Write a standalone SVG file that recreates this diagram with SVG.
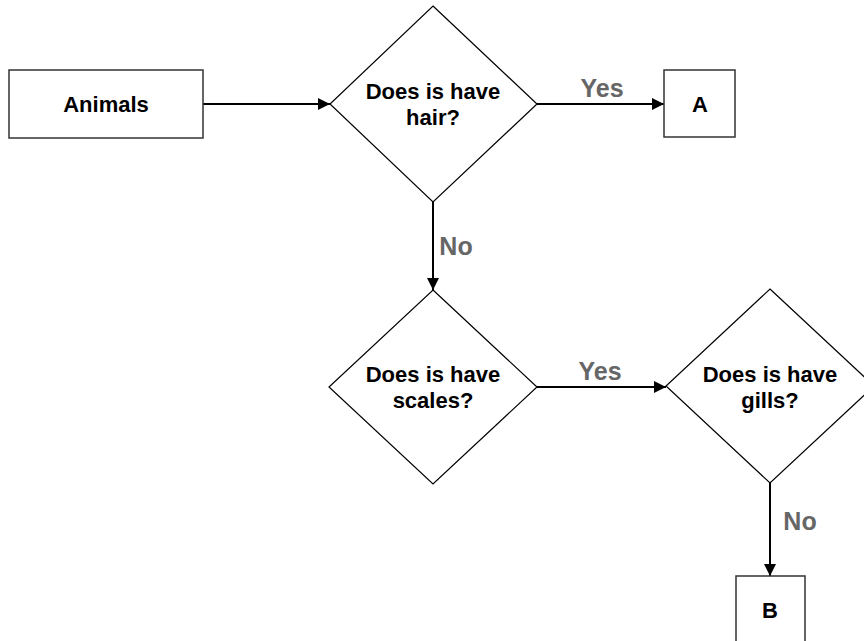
<svg xmlns="http://www.w3.org/2000/svg" width="864" height="641" viewBox="0 0 864 641">
<defs>
<style>
.box{fill:#fff;stroke:#333;stroke-width:1.5}
.dia{fill:#fff;stroke:#000;stroke-width:1.2}
.t{font-family:"Liberation Sans",Arial,sans-serif;font-weight:bold;font-size:22px;fill:#000;text-anchor:middle}
.lbl{font-family:"Liberation Sans",Arial,sans-serif;font-weight:bold;font-size:25px;fill:#666;text-anchor:middle}
.c{stroke:#000;stroke-width:2;fill:none;marker-end:url(#ah)}
</style>
<marker id="ah" viewBox="0 0 10 10" refX="10" refY="5" markerWidth="6" markerHeight="6" orient="auto" markerUnits="strokeWidth">
<path d="M0,0 L10,5 L0,10 z" fill="#000"/>
</marker>
</defs>
<rect width="864" height="641" fill="#fff"/>
<g id="connectors">
<line class="c" x1="203" y1="104" x2="330" y2="104"/>
<line class="c" x1="537" y1="104" x2="664" y2="104"/>
<line class="c" x1="433" y1="202" x2="433" y2="290"/>
<line class="c" x1="537" y1="387" x2="666" y2="387"/>
<line class="c" x1="770" y1="483" x2="770" y2="576"/>
<text class="lbl" x="602" y="97">Yes</text>
<text class="lbl" x="600" y="380">Yes</text>
<text class="lbl" x="456" y="255">No</text>
<text class="lbl" x="800" y="530">No</text>
</g>
<g id="animals">
<rect class="box" x="9" y="70" width="194" height="68"/>
<text class="t" x="106" y="112">Animals</text>
</g>
<g id="hair">
<polygon class="dia" points="433,6 537,104 433,202 330,104"/>
<text class="t" x="433" y="99">Does is have</text>
<text class="t" x="433" y="125">hair?</text>
</g>
<g id="a">
<rect class="box" x="664" y="70" width="71" height="67"/>
<text class="t" x="700" y="112">A</text>
</g>
<g id="scales">
<polygon class="dia" points="433,290 537,387 433,484 329,387"/>
<text class="t" x="433" y="382">Does is have</text>
<text class="t" x="433" y="408">scales?</text>
</g>
<g id="gills">
<polygon class="dia" points="770,289 874,386 770,483 666,386"/>
<text class="t" x="770" y="382">Does is have</text>
<text class="t" x="770" y="408">gills?</text>
</g>
<g id="b">
<rect class="box" x="736" y="576" width="69" height="68"/>
<text class="t" x="770" y="618">B</text>
</g>
</svg>
